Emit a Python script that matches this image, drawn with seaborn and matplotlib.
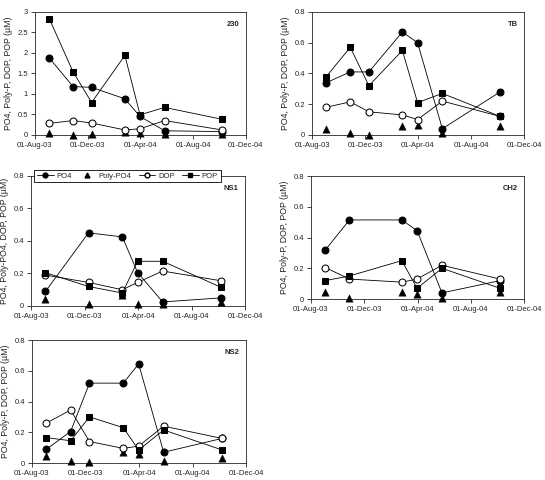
import pandas as pd
import matplotlib.pyplot as plt
import matplotlib.dates as mdates
from matplotlib.lines import Line2D
import seaborn as sns

sns.set_style("ticks")
plt.rcParams["font.family"] = ["Liberation Sans", "DejaVu Sans"]

# sampling dates
d_all = pd.to_datetime(["2003-09-03", "2003-10-28", "2003-12-10", "2004-02-25",
                        "2004-03-31", "2004-05-27", "2004-10-07"])
d_ns1 = d_all[[0, 2, 3, 4, 5, 6]]
d_ch2 = d_all[[0, 1, 3, 4, 5, 6]]

# station 230
po4_230 = [1.88, 1.18, 1.16, 0.88, 0.45, 0.10, 0.08]
poly_230 = [0.05, 0.0, 0.02, 0.06, 0.04, 0.02, 0.02]
dop_230 = [0.28, 0.35, 0.29, 0.12, 0.15, 0.35, 0.12]
pop_230 = [2.84, 1.54, 0.79, 1.94, 0.49, 0.67, 0.38]

# station TB
po4_tb = [0.34, 0.41, 0.41, 0.67, 0.60, 0.04, 0.28]
poly_tb = [0.04, 0.01, 0.0, 0.06, 0.065, 0.01, 0.06]
dop_tb = [0.18, 0.215, 0.15, 0.13, 0.10, 0.22, 0.12]
pop_tb = [0.38, 0.57, 0.32, 0.55, 0.21, 0.27, 0.12]

# station NS1
po4_ns1 = [0.09, 0.45, 0.425, 0.205, 0.025, 0.05]
poly_ns1 = [0.045, 0.015, 0.07, 0.015, 0.01, 0.025]
dop_ns1 = [0.19, 0.145, 0.10, 0.145, 0.215, 0.155]
pop_ns1 = [0.205, 0.12, 0.08, 0.275, 0.275, 0.115]

# station CH2
po4_ch2 = [0.32, 0.515, 0.515, 0.445, 0.04, 0.12]
poly_ch2 = [0.045, 0.005, 0.045, 0.03, 0.005, 0.045]
dop_ch2 = [0.205, 0.13, 0.11, 0.13, 0.22, 0.13]
pop_ch2 = [0.12, 0.15, 0.25, 0.07, 0.20, 0.07]

# station NS2
po4_ns2 = [0.09, 0.205, 0.52, 0.52, 0.645, 0.07, 0.16]
poly_ns2 = [0.045, 0.01, 0.005, 0.07, 0.06, 0.01, 0.035]
dop_ns2 = [0.26, 0.345, 0.14, 0.095, 0.11, 0.24, 0.16]
pop_ns2 = [0.165, 0.145, 0.30, 0.23, 0.085, 0.215, 0.085]

xticks = pd.to_datetime(["2003-08-01", "2003-12-01", "2004-04-01", "2004-08-01", "2004-12-01"])

fig = plt.figure(figsize=(5.45, 4.8), dpi=100)


def draw_panel(pos, dates, po4, poly, dop, pop, name, ymax, ystep, ylabel):
    ax = fig.add_axes(pos)
    kw = dict(color="black", linewidth=0.6, ax=ax, markeredgecolor="black", clip_on=False)
    sns.lineplot(x=dates, y=po4, marker="o", markersize=5, zorder=2, **kw)
    sns.scatterplot(x=dates, y=poly, marker="^", s=28, color="black",
                    edgecolor="black", linewidth=0.3, zorder=3, clip_on=False, ax=ax)
    sns.lineplot(x=dates, y=dop, marker="o", markersize=5, markerfacecolor="white",
                 zorder=4, **kw)
    sns.lineplot(x=dates, y=pop, marker="s", markersize=5, zorder=5, **kw)
    ax.set_xlim(xticks[0], xticks[-1])
    ax.set_xticks(xticks)
    ax.xaxis.set_major_formatter(mdates.DateFormatter("%d-%b-%y"))
    ax.set_ylim(0, ymax)
    yt = [round(i * ystep, 2) for i in range(int(round(ymax / ystep)) + 1)]
    ax.set_yticks(yt)
    ax.set_yticklabels([("%g" % v) for v in yt])
    ax.tick_params(labelsize=5.5, length=3, width=0.6, pad=2)
    for s in ax.spines.values():
        s.set_linewidth(0.6)
    ax.set_ylabel(ylabel, fontsize=6.3, labelpad=3)
    ax.set_xlabel("")
    ax.text(0.97, 0.9, name, transform=ax.transAxes, ha="right", va="center",
            fontsize=5.5, fontweight="bold")
    return ax


lab = "PO4, Poly-P, DOP, POP (µM)"
draw_panel([0.0642, 0.719, 0.387, 0.256], d_all, po4_230, poly_230, dop_230, pop_230,
           "230", 3.0, 0.5, lab)
draw_panel([0.5725, 0.719, 0.389, 0.256], d_all, po4_tb, poly_tb, dop_tb, pop_tb,
           "TB", 0.8, 0.2, lab)
ax_ns1 = draw_panel([0.0569, 0.3625, 0.393, 0.271], d_ns1, po4_ns1, poly_ns1, dop_ns1,
                    pop_ns1, "NS1", 0.8, 0.2, "PO4, Poly-PO4, DOP, POP (µM)")
draw_panel([0.5706, 0.377, 0.391, 0.256], d_ch2, po4_ch2, poly_ch2, dop_ch2, pop_ch2,
           "CH2", 0.8, 0.2, lab)
draw_panel([0.0587, 0.0354, 0.393, 0.256], d_all, po4_ns2, poly_ns2, dop_ns2, pop_ns2,
           "NS2", 0.8, 0.2, lab)

# legend on the NS1 panel
handles = [
    Line2D([], [], color="black", lw=0.6, marker="o", markersize=3.5),
    Line2D([], [], color="black", lw=0, marker="^", markersize=3.5),
    Line2D([], [], color="black", lw=0.6, marker="o", markersize=3.5, markerfacecolor="white"),
    Line2D([], [], color="black", lw=0.6, marker="s", markersize=3.5),
]
leg = ax_ns1.legend(handles, ["PO4", "Poly-PO4", "DOP", "POP"], ncol=4, loc="center",
                    bbox_to_anchor=(0.45, 1.0), fontsize=5.5, frameon=True, fancybox=False,
                    edgecolor="black", framealpha=1, handlelength=2.2, handletextpad=0.4,
                    columnspacing=0.9, borderpad=0.35)
leg.get_frame().set_linewidth(0.6)
leg.set_zorder(10)

fig.savefig("out.png", dpi=100)
